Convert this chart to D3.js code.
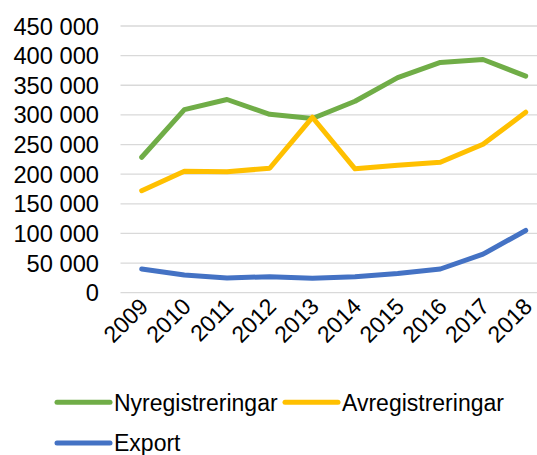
<!DOCTYPE html>
<html>
<head>
<meta charset="utf-8">
<script src="https://cdn.jsdelivr.net/npm/d3@7"></script>
<style>
  html, body { margin: 0; padding: 0; background: #fff; }
  svg { display: block; font-family: "Liberation Sans", Arial, sans-serif; }
</style>
</head>
<body>
<svg id="chart"></svg>
<script>
// registreringar per år
const years = ['2009', '2010', '2011', '2012', '2013', '2014', '2015', '2016', '2017', '2018'];
const nyreg = [228500, 309000, 326000, 301000, 294000, 323000, 363000, 388500, 393500, 365500];
const avreg = [172000, 205000, 204000, 210000, 296000, 209000, 215000, 220000, 250500, 304500];
const exportv = [40000, 30000, 25000, 27000, 24500, 27000, 32500, 40000, 65000, 105000];
const yTicks = [0, 50000, 100000, 150000, 200000, 250000, 300000, 350000, 400000, 450000];

const series = [
  { name: 'Nyregistreringar', values: nyreg, color: '#70AD47' },
  { name: 'Avregistreringar', values: avreg, color: '#FFC000' },
  { name: 'Export', values: exportv, color: '#4472C4' }
];

const width = 537;
const height = 455;

const svg = d3.select('#chart')
  .attr('width', width)
  .attr('height', height);

const x = d3.scalePoint()
  .domain(years)
  .range([141.7, 525.7]);

const y = d3.scaleLinear()
  .domain([0, 450000])
  .range([292.7, 26]);

const fmt = v => d3.format(',')(v).replace(/,/g, ' ');

// gridlines
svg.append('g')
  .selectAll('line')
  .data(yTicks)
  .join('line')
    .attr('x1', 120.5)
    .attr('x2', 547)
    .attr('y1', d => y(d))
    .attr('y2', d => y(d))
    .attr('stroke', '#d9d9d9')
    .attr('stroke-width', 1.3);

// y labels
svg.append('g')
  .selectAll('text')
  .data(yTicks)
  .join('text')
    .attr('x', 99)
    .attr('y', d => y(d))
    .attr('dy', '0.36em')
    .attr('text-anchor', 'end')
    .attr('font-size', 23.7)
    .attr('fill', '#000')
    .text(fmt);

// x labels, rotated
svg.append('g')
  .selectAll('text')
  .data(years)
  .join('text')
    .attr('transform', d => `translate(${x(d) + 2},${302}) rotate(-45)`)
    .attr('text-anchor', 'end')
    .attr('dy', '0.36em')
    .attr('font-size', 23)
    .attr('fill', '#000')
    .text(d => d);

const line = d3.line()
  .x((d, i) => x(years[i]))
  .y(d => y(d));

svg.append('g')
  .selectAll('path')
  .data(series)
  .join('path')
    .attr('d', d => line(d.values))
    .attr('fill', 'none')
    .attr('stroke', d => d.color)
    .attr('stroke-width', 5)
    .attr('stroke-linejoin', 'round')
    .attr('stroke-linecap', 'round');

// legend
const legendPos = [
  { x: 57, y: 402.3 },
  { x: 285, y: 402.3 },
  { x: 57, y: 443 }
];

const legend = svg.append('g')
  .selectAll('g')
  .data(series)
  .join('g')
    .attr('transform', (d, i) => `translate(${legendPos[i].x},${legendPos[i].y})`);

legend.append('line')
  .attr('x1', 0)
  .attr('x2', 53)
  .attr('stroke', d => d.color)
  .attr('stroke-width', 5)
  .attr('stroke-linecap', 'round');

legend.append('text')
  .attr('x', 57)
  .attr('dy', '0.36em')
  .attr('font-size', 23)
  .attr('fill', '#000')
  .text(d => d.name);
</script>
</body>
</html>
